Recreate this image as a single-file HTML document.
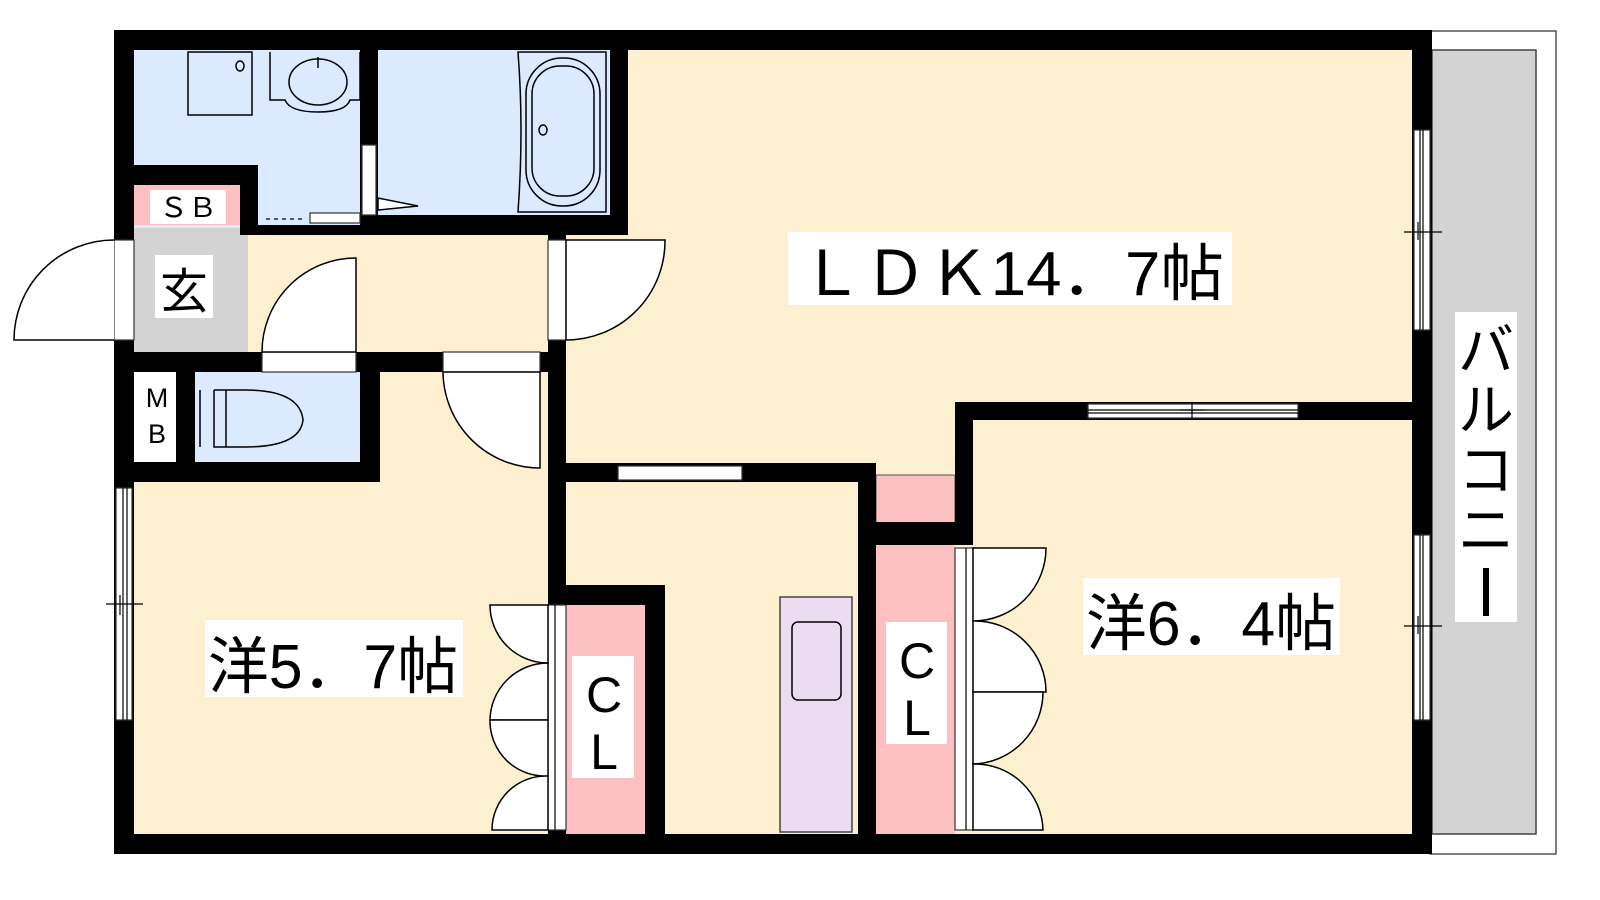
<!DOCTYPE html>
<html><head><meta charset="utf-8"><style>
html,body{margin:0;padding:0;background:#fff;width:1600px;height:900px;overflow:hidden}
svg{display:block}
text{font-family:"Liberation Sans","Noto Sans CJK JP",sans-serif;fill:#000}
</style></head><body>
<svg width="1600" height="900" viewBox="0 0 1600 900" xmlns="http://www.w3.org/2000/svg">
<!-- balcony -->
<rect x="1430" y="31" width="126" height="823" fill="#fff" stroke="#555" stroke-width="1.5"/>
<rect x="1432" y="50" width="104" height="784" fill="#d3d3d3" stroke="#444" stroke-width="1.5"/>
<!-- floors -->
<rect x="114" y="30" width="1318" height="824" fill="#fdf0d0"/>
<rect x="134" y="50" width="244" height="178" fill="#dbeafe"/>
<rect x="378" y="50" width="232" height="166" fill="#dbeafe"/>
<rect x="134" y="228" width="114" height="124" fill="#d3d3d3"/>
<rect x="134" y="185" width="106" height="40" fill="#fdc0c0"/>
<rect x="195" y="372" width="165" height="90" fill="#dbeafe"/>
<rect x="134" y="372" width="42" height="90" fill="#fff"/>
<rect x="566" y="605" width="79" height="229" fill="#fdc0c0"/>
<rect x="876" y="475" width="79" height="50" fill="#fdc0c0" stroke="#555" stroke-width="1"/>
<rect x="876" y="545" width="79" height="289" fill="#fdc0c0"/>
<rect x="780" y="597" width="72" height="235" fill="#ecdcf2" stroke="#444" stroke-width="1.5"/>
<rect x="792" y="622" width="49" height="78" rx="6" fill="none" stroke="#000" stroke-width="1.5"/>
<!-- walls -->
<g fill="#000">
<rect x="114" y="30" width="1318" height="20"/>
<rect x="114" y="834" width="1318" height="20"/>
<rect x="114" y="30" width="20" height="824"/>
<rect x="1412" y="30" width="20" height="824"/>
<rect x="360" y="30" width="18" height="205"/>
<rect x="610" y="30" width="18" height="205"/>
<rect x="360" y="215" width="268" height="20"/>
<rect x="114" y="165" width="144" height="20"/>
<rect x="240" y="165" width="18" height="70"/>
<rect x="240" y="225" width="120" height="10"/>
<rect x="114" y="352" width="452" height="20"/>
<rect x="176" y="352" width="19" height="130"/>
<rect x="360" y="352" width="20" height="130"/>
<rect x="114" y="462" width="266" height="20"/>
<rect x="548" y="235" width="18" height="619"/>
<rect x="548" y="463" width="328" height="19"/>
<rect x="548" y="585" width="117" height="20"/>
<rect x="645" y="585" width="20" height="269"/>
<rect x="858" y="463" width="18" height="391"/>
<rect x="858" y="522" width="115" height="23"/>
<rect x="955" y="402" width="18" height="143"/>
<rect x="955" y="402" width="457" height="18"/>
</g>
<!-- openings (white) -->
<g fill="#fff" stroke="#333" stroke-width="1.2">
<rect x="114" y="240" width="20" height="100"/>
<rect x="548" y="240" width="18" height="100"/>
<rect x="262" y="352" width="94" height="20"/>
<rect x="443" y="352" width="97" height="20"/>
<rect x="362" y="145" width="14" height="70"/>
<rect x="618" y="466" width="124" height="14"/>
<rect x="1088" y="404" width="210" height="14"/>
<rect x="116" y="488" width="16" height="232"/>
<rect x="1414" y="130" width="16" height="200"/>
<rect x="1414" y="535" width="16" height="185"/>
<rect x="548" y="605" width="18" height="225"/>
<rect x="955" y="548" width="18" height="282"/>
<rect x="310" y="213" width="50" height="10"/>
</g>
<!-- window inner lines -->
<g stroke="#000" stroke-width="1.2" fill="none">
<line x1="123" y1="488" x2="123" y2="720"/><line x1="127" y1="488" x2="127" y2="720"/>
<line x1="106" y1="604" x2="143" y2="604"/><line x1="120" y1="595" x2="120" y2="615"/>
<line x1="1423" y1="130" x2="1423" y2="330"/><line x1="1420" y1="130" x2="1420" y2="330"/>
<line x1="1404" y1="232" x2="1442" y2="232"/><line x1="1418" y1="222" x2="1418" y2="240"/>
<line x1="1423" y1="535" x2="1423" y2="720"/><line x1="1420" y1="535" x2="1420" y2="720"/>
<line x1="1404" y1="626" x2="1442" y2="626"/><line x1="1418" y1="616" x2="1418" y2="634"/>
<line x1="1088" y1="410" x2="1298" y2="410"/><line x1="1088" y1="413" x2="1298" y2="413"/>
<line x1="1192" y1="404" x2="1192" y2="418"/><line x1="1180" y1="410" x2="1205" y2="410"/>
<line x1="266" y1="219" x2="306" y2="219" stroke-dasharray="4 4"/>
</g>
<!-- doors -->
<g fill="#fff" stroke="#000" stroke-width="1.5">
<path d="M114 240 L14 340 Z"/>
<path d="M114 240 A100 100 0 0 0 14 340 L114 340"/>
<path d="M356 352 L356 258 A94 94 0 0 0 262 352 Z"/>
<path d="M566 240 L665 240 A99 99 0 0 1 566 340 Z"/>
<path d="M540 372 L540 468 A97 97 0 0 1 443 372 Z"/>
<path d="M378 210 L378 198 L418 206 Z"/>
<path d="M548 605 L490 605 A58 58 0 0 0 548 663 Z"/>
<path d="M548 663 A58 58 0 0 0 490 720 L548 720 Z"/>
<path d="M548 720 L490 720 A55 55 0 0 0 548 776 Z"/>
<path d="M548 776 A54 54 0 0 0 492 830 L548 830 Z"/>
<path d="M973 548 L1046 548 A73 73 0 0 1 973 621 Z"/>
<path d="M973 621 A71 71 0 0 1 1046 692 L973 692 Z"/>
<path d="M973 692 L1043 692 A72 72 0 0 1 973 764 Z"/>
<path d="M973 764 A68 68 0 0 1 1043 830 L973 830 Z"/>
</g>
<g stroke="#000" stroke-width="1.2"><line x1="555" y1="605" x2="555" y2="830"/><line x1="966" y1="548" x2="966" y2="830"/></g>
<!-- fixtures -->
<g fill="none" stroke="#000" stroke-width="1.5">
<rect x="188" y="52" width="64" height="63" fill="#dbeafe"/>
<ellipse cx="240" cy="66" rx="4" ry="5"/>
<path d="M270 52 L270 100 L285 100 Q290 112 318 112 Q346 112 350 100 L360 100 L360 52"/>
<ellipse cx="318" cy="82" rx="29" ry="23"/>
<line x1="318" y1="57" x2="318" y2="68"/>
<path d="M518 52 Q524 130 518 212 L606 212 L606 52 Z"/>
<rect x="526" y="58" width="74" height="148" rx="36"/>
<rect x="532" y="66" width="62" height="130" rx="28"/>
<ellipse cx="543" cy="130" rx="4" ry="5"/>
<path d="M200 390 L200 447 M214 390 L214 447 L245 447 Q300 447 303 420 Q300 390 245 390 L214 390"/>
<path d="M226 390 L226 447"/>
</g>
<!-- labels -->
<rect x="150" y="190" width="76" height="34" fill="#fff"/>
<text x="188" y="217" font-size="27" text-anchor="middle" textLength="58" lengthAdjust="spacingAndGlyphs">ＳＢ</text>
<rect x="155" y="255" width="58" height="63" fill="#fff"/>
<text x="184" y="308" font-size="48" text-anchor="middle">玄</text>
<text x="157" y="407" font-size="27" text-anchor="middle">M</text>
<text x="157" y="443" font-size="27" text-anchor="middle">B</text>
<rect x="788" y="232" width="444" height="73" fill="#fff"/>
<text x="800" y="295" font-size="62" textLength="424" lengthAdjust="spacingAndGlyphs">ＬＤＫ14．7帖</text>
<rect x="205" y="620" width="258" height="77" fill="#fff"/>
<text x="208" y="688" font-size="62" textLength="250" lengthAdjust="spacingAndGlyphs">洋5．7帖</text>
<rect x="1083" y="578" width="257" height="77" fill="#fff"/>
<text x="1086" y="645" font-size="62" textLength="250" lengthAdjust="spacingAndGlyphs">洋6．4帖</text>
<rect x="572" y="656" width="62" height="122" fill="#fff"/>
<text x="604" y="712" font-size="50" text-anchor="middle">C</text>
<text x="604" y="769" font-size="50" text-anchor="middle">L</text>
<rect x="886" y="622" width="61" height="122" fill="#fff"/>
<text x="917" y="678" font-size="50" text-anchor="middle">C</text>
<text x="917" y="735" font-size="50" text-anchor="middle">L</text>
<rect x="1455" y="312" width="62" height="310" fill="#fff"/>
<text x="1486" y="370" font-size="56" text-anchor="middle">バ</text>
<text x="1486" y="430" font-size="56" text-anchor="middle">ル</text>
<text x="1486" y="490" font-size="56" text-anchor="middle">コ</text>
<text x="1486" y="550" font-size="56" text-anchor="middle">ニ</text>
<rect x="1483" y="568" width="6" height="48" fill="#000"/>
</svg>
</body></html>
